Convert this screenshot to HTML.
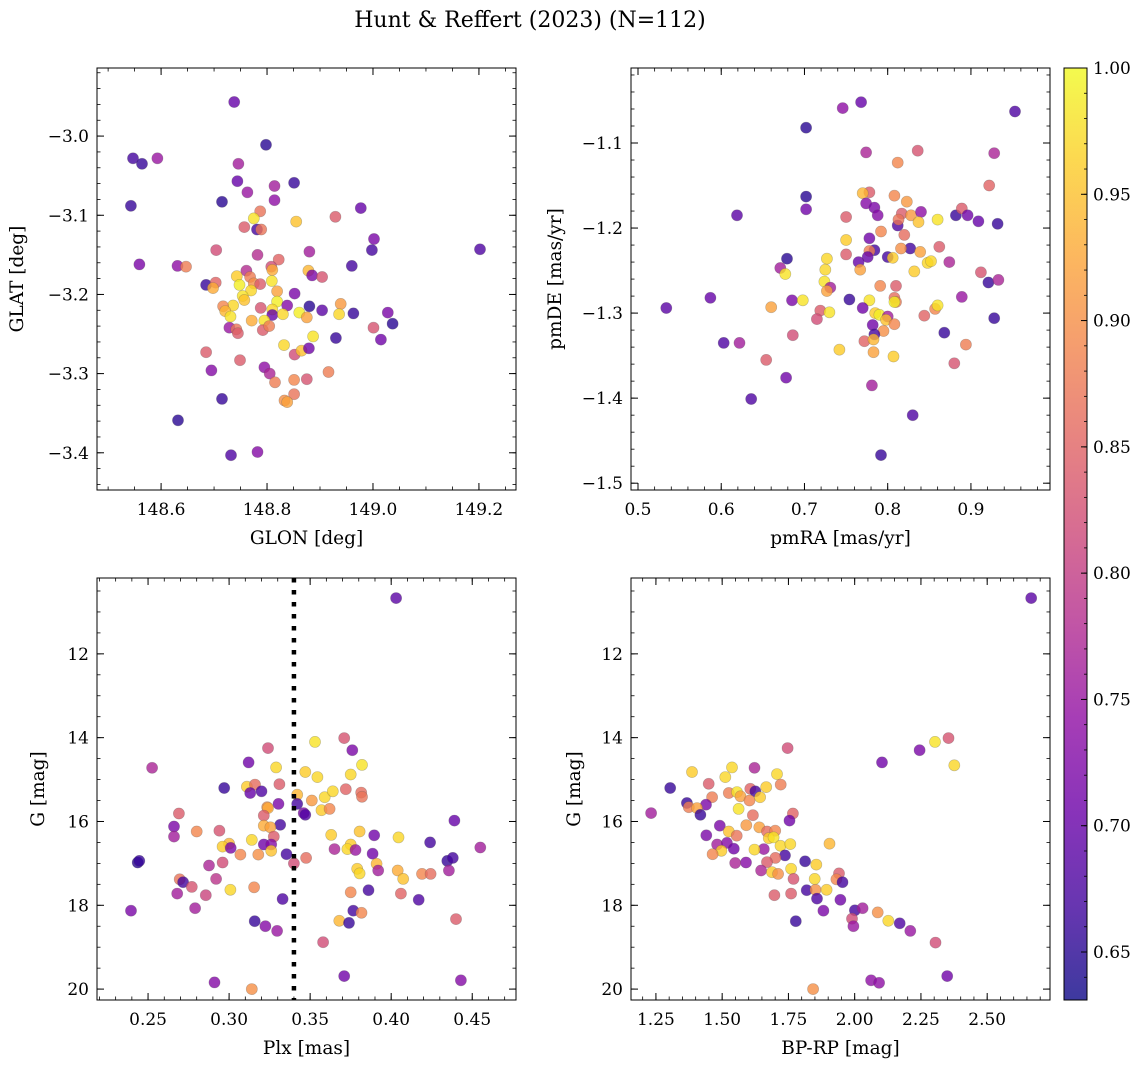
<!DOCTYPE html>
<html><head><meta charset="utf-8">
<style>
body{margin:0;background:#fff;}
svg text{font-family:"DejaVu Serif","Liberation Serif",serif;fill:#000;}
</style></head>
<body>
<svg id="fig" width="1148" height="1067" xmlns="http://www.w3.org/2000/svg">
<defs>
<linearGradient id="plasma" x1="0" y1="1" x2="0" y2="0">
<stop offset="0" stop-color="#0d0887"/><stop offset="0.1" stop-color="#41049d"/><stop offset="0.2" stop-color="#6a00a8"/><stop offset="0.3" stop-color="#8f0da4"/><stop offset="0.4" stop-color="#b12a90"/><stop offset="0.5" stop-color="#cc4778"/><stop offset="0.6" stop-color="#e16462"/><stop offset="0.7" stop-color="#f2844b"/><stop offset="0.8" stop-color="#fca636"/><stop offset="0.9" stop-color="#fcce25"/><stop offset="1" stop-color="#f0f921"/>
</linearGradient>
</defs>
<text x="530" y="27" font-size="22" text-anchor="middle">Hunt &amp; Reffert (2023) (N=112)</text>
</svg>
<script>
// ---- Panel 1: GLON / GLAT ----
const glon1 = [148.738,148.798,148.547,148.564,148.593,148.746,148.744,148.851,148.763,148.814,148.814,148.715,148.543,148.977,148.787,148.775,148.855,148.929,148.757,148.781,148.789,149.002,148.998,149.202,148.704,148.782,148.880,148.559,148.631,148.647,148.822,148.960,148.808,148.810,148.878,148.885,148.904,148.761,148.743,148.768,148.775,148.787,148.748,148.685,148.703,148.698,148.770,148.809,148.819,148.754,148.757,148.852,148.819,148.838,148.736,148.717,148.721,148.731,148.788,148.810,148.810,148.830,148.880,148.904,148.861,148.875,148.939,148.936,148.963,149.028,149.037,148.771,148.795,148.729,148.742,148.745,148.792,148.804,149.001,149.015,148.930,148.887,148.832,148.852,148.865,148.879,148.685,148.749,148.695,148.795,148.805,148.815,148.851,148.875,148.916,148.851,148.833,148.838,148.715,148.632,148.732,148.782];
const glat1 = [-2.957,-3.011,-3.028,-3.035,-3.028,-3.035,-3.057,-3.059,-3.071,-3.063,-3.081,-3.083,-3.088,-3.091,-3.095,-3.104,-3.108,-3.102,-3.115,-3.118,-3.118,-3.130,-3.144,-3.143,-3.144,-3.150,-3.146,-3.162,-3.164,-3.165,-3.156,-3.164,-3.165,-3.169,-3.170,-3.176,-3.178,-3.170,-3.177,-3.178,-3.186,-3.187,-3.188,-3.188,-3.185,-3.192,-3.195,-3.183,-3.196,-3.202,-3.207,-3.199,-3.209,-3.214,-3.214,-3.215,-3.221,-3.228,-3.217,-3.219,-3.226,-3.225,-3.215,-3.220,-3.223,-3.229,-3.212,-3.225,-3.224,-3.223,-3.237,-3.233,-3.233,-3.242,-3.244,-3.249,-3.245,-3.240,-3.242,-3.257,-3.255,-3.253,-3.264,-3.276,-3.271,-3.268,-3.273,-3.283,-3.296,-3.292,-3.300,-3.311,-3.308,-3.307,-3.298,-3.326,-3.334,-3.336,-3.332,-3.359,-3.403,-3.399];
const prob1 = [.70,.65,.67,.66,.75,.76,.70,.66,.75,.76,.74,.65,.66,.70,.87,.98,.95,.84,.84,.67,.87,.72,.67,.68,.82,.78,.76,.72,.74,.88,.85,.67,.82,.93,.94,.72,.83,.78,.96,.88,.90,.84,.99,.66,.85,.93,.97,.98,.92,.98,.95,.72,.99,.73,.97,.89,.94,.98,.83,.97,.70,.97,.65,.69,.99,.92,.91,.97,.66,.72,.65,.93,.98,.75,.87,.84,.84,.88,.83,.71,.66,.98,.97,.82,.95,.71,.84,.84,.73,.74,.77,.88,.89,.83,.88,.87,.90,.92,.66,.65,.68,.73];
const xt1 = [148.6,148.8,149.0,149.2], xt1Labels = ["148.6","148.8","149.0","149.2"];
const yt1 = [-3.0,-3.1,-3.2,-3.3,-3.4], yt1Labels = ["\u22123.0","\u22123.1","\u22123.2","\u22123.3","\u22123.4"];

// ---- Panel 2: pmRA / pmDE ----
const pmra2 = [0.768,0.746,0.953,0.702,0.774,0.836,0.928,0.812,0.922,0.778,0.770,0.808,0.702,0.823,0.774,0.784,0.702,0.619,0.788,0.817,0.828,0.840,0.837,0.860,0.882,0.889,0.896,0.909,0.932,0.750,0.812,0.813,0.792,0.820,0.750,0.778,0.784,0.778,0.827,0.816,0.839,0.862,0.750,0.776,0.765,0.800,0.806,0.848,0.852,0.874,0.727,0.679,0.671,0.677,0.725,0.767,0.832,0.912,0.921,0.933,0.724,0.731,0.727,0.791,0.810,0.889,0.587,0.534,0.685,0.698,0.754,0.778,0.808,0.810,0.808,0.770,0.857,0.860,0.660,0.719,0.730,0.715,0.785,0.790,0.800,0.798,0.844,0.928,0.808,0.782,0.795,0.784,0.868,0.603,0.622,0.686,0.772,0.783,0.894,0.742,0.783,0.807,0.654,0.880,0.678,0.781,0.636,0.830,0.792];
const pmde2 = [-1.052,-1.059,-1.063,-1.082,-1.111,-1.109,-1.112,-1.123,-1.150,-1.158,-1.159,-1.162,-1.163,-1.169,-1.171,-1.176,-1.178,-1.185,-1.185,-1.183,-1.185,-1.181,-1.193,-1.190,-1.185,-1.177,-1.185,-1.192,-1.195,-1.187,-1.197,-1.190,-1.204,-1.208,-1.214,-1.212,-1.226,-1.227,-1.224,-1.224,-1.228,-1.222,-1.231,-1.234,-1.240,-1.234,-1.235,-1.241,-1.239,-1.240,-1.236,-1.236,-1.247,-1.254,-1.249,-1.249,-1.251,-1.252,-1.264,-1.261,-1.263,-1.270,-1.274,-1.268,-1.268,-1.281,-1.282,-1.294,-1.285,-1.285,-1.284,-1.285,-1.282,-1.287,-1.287,-1.294,-1.295,-1.291,-1.293,-1.297,-1.299,-1.307,-1.300,-1.302,-1.304,-1.308,-1.303,-1.306,-1.313,-1.314,-1.321,-1.325,-1.323,-1.335,-1.335,-1.326,-1.333,-1.331,-1.337,-1.343,-1.346,-1.351,-1.355,-1.359,-1.376,-1.385,-1.401,-1.420,-1.467];
const prob2 = [.70,.74,.68,.65,.77,.83,.77,.89,.85,.84,.94,.89,.65,.91,.73,.72,.71,.69,.73,.84,.91,.74,.95,.98,.66,.84,.71,.70,.66,.84,.68,.87,.89,.86,.96,.71,.67,.88,.67,.90,.92,.84,.84,.70,.70,.67,.96,.97,.97,.77,.97,.65,.76,.98,.97,.92,.96,.83,.66,.77,.98,.76,.92,.89,.84,.75,.70,.69,.72,.98,.66,.98,.86,.88,.99,.71,.89,.98,.92,.84,.98,.82,.96,.99,.76,.95,.85,.66,.89,.71,.90,.67,.66,.68,.76,.82,.85,.94,.88,.96,.92,.96,.84,.83,.71,.76,.68,.68,.66];
const xt2 = [0.5,0.6,0.7,0.8,0.9], xt2Labels = ["0.5","0.6","0.7","0.8","0.9"];
const yt2 = [-1.1,-1.2,-1.3,-1.4,-1.5], yt2Labels = ["\u22121.1","\u22121.2","\u22121.3","\u22121.4","\u22121.5"];

// ---- Panel 3: Plx / G ----
const plx3 = [0.403,0.353,0.371,0.376,0.324,0.2525,0.312,0.329,0.347,0.3545,0.375,0.382,0.331,0.297,0.311,0.316,0.313,0.320,0.342,0.342,0.351,0.359,0.364,0.372,0.3815,0.382,0.3305,0.3235,0.324,0.357,0.362,0.346,0.347,0.3214,0.269,0.266,0.3315,0.3214,0.3255,0.3276,0.266,0.280,0.294,0.314,0.363,0.3805,0.3895,0.4045,0.424,0.439,0.455,0.300,0.296,0.301,0.3214,0.326,0.326,0.307,0.318,0.3354,0.3475,0.340,0.365,0.375,0.373,0.378,0.3885,0.391,0.392,0.379,0.3805,0.296,0.2876,0.2436,0.2446,0.4346,0.438,0.4356,0.404,0.4074,0.419,0.4243,0.2695,0.2716,0.277,0.292,0.3008,0.3154,0.268,0.2856,0.375,0.386,0.406,0.417,0.333,0.279,0.2395,0.3158,0.3224,0.3296,0.368,0.374,0.3766,0.3817,0.440,0.358,0.371,0.291,0.443,0.314];
const g3 = [10.67,14.10,14.01,14.30,14.25,14.72,14.59,14.71,14.82,14.94,14.88,14.65,15.11,15.20,15.17,15.12,15.32,15.28,15.36,15.58,15.50,15.42,15.28,15.23,15.31,15.41,15.58,15.66,15.68,15.73,15.70,15.80,15.84,15.86,15.81,16.12,16.08,16.10,16.14,16.36,16.36,16.24,16.22,16.44,16.32,16.24,16.33,16.38,16.50,15.98,16.62,16.53,16.60,16.63,16.55,16.55,16.70,16.79,16.79,16.78,16.87,17.00,16.66,16.55,16.66,16.68,16.77,17.01,17.17,17.13,17.24,16.98,17.05,16.98,16.94,16.94,16.87,17.17,17.17,17.37,17.25,17.25,17.38,17.45,17.56,17.37,17.63,17.57,17.72,17.76,17.69,17.64,17.72,17.87,17.85,18.07,18.13,18.38,18.50,18.61,18.37,18.42,18.13,18.18,18.33,18.88,19.69,19.84,19.79,20.00];
const prob3 = [.69,.98,.83,.72,.82,.77,.71,.97,.96,.97,.97,.98,.84,.66,.96,.86,.70,.68,.94,.67,.91,.97,.97,.85,.86,.87,.72,.90,.93,.96,.89,.72,.68,.84,.84,.72,.67,.93,.92,.84,.76,.89,.83,.97,.96,.95,.71,.97,.67,.70,.76,.94,.96,.72,.71,.73,.95,.89,.90,.67,.86,.82,.77,.96,.97,.75,.71,.94,.76,.96,.97,.82,.77,.65,.66,.66,.67,.76,.93,.95,.89,.86,.87,.67,.83,.79,.97,.89,.76,.81,.89,.67,.85,.68,.68,.76,.72,.66,.73,.75,.94,.66,.67,.89,.84,.82,.71,.73,.73,.90];
const plxCut = 0.34;
const xt3 = [0.25,0.30,0.35,0.40,0.45], xt3Labels = ["0.25","0.30","0.35","0.40","0.45"];
const yt3 = [12,14,16,18,20], yt3Labels = ["12","14","16","18","20"];

// ---- Panel 4: BP-RP / G ----
const bprp4 = [2.666,2.303,2.354,2.245,1.747,2.103,2.376,1.232,1.304,1.386,1.449,1.512,1.537,1.622,1.707,1.721,1.666,1.606,1.625,1.525,1.556,1.569,1.603,1.643,1.462,1.367,1.439,1.374,1.405,1.418,1.562,1.616,1.767,1.754,1.491,1.591,1.640,1.440,1.525,1.555,1.669,1.700,1.676,1.694,1.481,1.518,1.544,1.497,1.464,1.657,1.622,1.720,1.757,1.905,1.737,1.701,1.669,1.590,1.549,1.647,1.688,1.711,1.760,1.813,1.855,1.769,1.941,1.931,1.954,1.849,1.819,1.852,1.894,1.697,1.760,1.858,1.946,1.882,2.001,2.030,2.087,2.127,1.990,1.995,1.778,2.170,2.210,2.305,2.349,2.062,2.092,1.843];
const g4 = [10.67,14.10,14.01,14.30,14.25,14.59,14.66,15.80,15.20,14.82,15.10,14.94,14.71,14.72,14.87,15.12,15.18,15.22,15.28,15.32,15.30,15.40,15.50,15.42,15.42,15.56,15.60,15.66,15.68,15.84,15.70,15.85,15.81,15.98,16.10,16.09,16.14,16.33,16.24,16.34,16.24,16.22,16.40,16.38,16.55,16.51,16.65,16.70,16.78,16.66,16.67,16.58,16.54,16.53,16.81,16.87,16.97,16.98,16.99,17.17,17.21,17.25,17.13,16.95,17.03,17.37,17.24,17.38,17.45,17.37,17.64,17.63,17.63,17.76,17.72,17.84,17.87,18.13,18.12,18.07,18.17,18.37,18.32,18.50,18.38,18.43,18.61,18.89,19.69,19.79,19.85,20.00];
const prob4 = [.69,.98,.83,.72,.82,.71,.97,.76,.66,.96,.84,.97,.97,.77,.97,.88,.96,.85,.67,.88,.98,.92,.89,.96,.88,.66,.72,.88,.92,.66,.98,.86,.85,.71,.72,.91,.92,.72,.95,.87,.86,.89,.96,.98,.76,.73,.71,.96,.89,.75,.97,.97,.97,.94,.67,.86,.84,.73,.77,.77,.96,.90,.97,.66,.96,.83,.84,.89,.67,.97,.67,.90,.96,.84,.84,.68,.71,.72,.67,.76,.90,.97,.82,.75,.66,.68,.75,.82,.71,.74,.74,.90];
const xt4 = [1.25,1.50,1.75,2.00,2.25,2.50], xt4Labels = ["1.25","1.50","1.75","2.00","2.25","2.50"];
const yt4 = [12,14,16,18,20], yt4Labels = ["12","14","16","18","20"];

// ---- Colorbar ----
const cbMin = 0.631, cbMax = 1.0;
const cbTicks = [0.65,0.70,0.75,0.80,0.85,0.90,0.95,1.00], cbLabels = ["0.65","0.70","0.75","0.80","0.85","0.90","0.95","1.00"];

const NS = "http://www.w3.org/2000/svg";
const svg = document.getElementById('fig');
function mk(tag, attrs, parent){ const e=document.createElementNS(NS,tag); for(const k in attrs) e.setAttribute(k,attrs[k]); (parent||svg).appendChild(e); return e; }

const stops = [[13,8,135],[65,4,157],[106,0,168],[143,13,164],[177,42,144],[204,71,120],[225,100,98],[242,132,75],[252,166,54],[252,206,37],[240,249,33]];
function plasma(v){
  let t=(v-cbMin)/(cbMax-cbMin); t=Math.max(0,Math.min(1,t));
  const f=t*10, i=Math.min(9,Math.floor(f)), r=f-i;
  const c=stops[i].map((a,j)=>Math.round(a+(stops[i+1][j]-a)*r));
  return `rgb(${c[0]},${c[1]},${c[2]})`;
}

function panel(cfg){
  const {name,L,T,W,H,xmin,xmax,ymin,ymax,invert,xs,ys,ps,xt,xtl,yt,ytl,xminor,yminor,xlabel,ylabel,ylabelX} = cfg;
  const sx = v => L + (v-xmin)/(xmax-xmin)*W;
  const sy = invert ? (v => T + (v-ymin)/(ymax-ymin)*H) : (v => T + (ymax-v)/(ymax-ymin)*H);
  const g = mk('g',{});
  
  
  const pts = mk('g',{},g);
  
  
  for(let i=0;i<xs.length;i++){
    const c = mk('circle',{cx:sx(xs[i]).toFixed(1),cy:sy(ys[i]).toFixed(1),r:5.6,fill:plasma(ps[i]),'fill-opacity':0.8,stroke:'#555','stroke-opacity':0.35,'stroke-width':0.6},pts);
    
    
  }
  if(cfg.extra) cfg.extra(g,sx,sy);
  const ax = mk('g',{},g);
  
  
  mk('rect',{x:L,y:T,width:W,height:H,fill:'none',stroke:'#000','stroke-width':1},ax);
  const lo=Math.min(xmin,xmax), hi=Math.max(xmin,xmax);
  for(let v=Math.ceil(lo/xminor-1e-6)*xminor; v<=hi+1e-9; v+=xminor){
    const x=sx(v);
    mk('line',{x1:x,y1:T+H,x2:x,y2:T+H-3.5,stroke:'#000','stroke-width':0.8},ax);
    mk('line',{x1:x,y1:T,x2:x,y2:T+3.5,stroke:'#000','stroke-width':0.8},ax);
  }
  for(let v=Math.ceil(ymin/yminor-1e-6)*yminor; v<=ymax+1e-9; v+=yminor){
    const y=sy(v);
    mk('line',{x1:L,y1:y,x2:L+3.5,y2:y,stroke:'#000','stroke-width':0.8},ax);
    mk('line',{x1:L+W,y1:y,x2:L+W-3.5,y2:y,stroke:'#000','stroke-width':0.8},ax);
  }
  xt.forEach((v,i)=>{
    const x=sx(v);
    mk('line',{x1:x,y1:T+H,x2:x,y2:T+H-7,stroke:'#000','stroke-width':1},ax);
    mk('line',{x1:x,y1:T,x2:x,y2:T+7,stroke:'#000','stroke-width':1},ax);
    const t=mk('text',{x:x,y:T+H+25,'font-size':17,'text-anchor':'middle'},ax); t.textContent=xtl[i];
    
    
  });
  yt.forEach((v,i)=>{
    const y=sy(v);
    mk('line',{x1:L,y1:y,x2:L+7,y2:y,stroke:'#000','stroke-width':1},ax);
    mk('line',{x1:L+W,y1:y,x2:L+W-7,y2:y,stroke:'#000','stroke-width':1},ax);
    const t=mk('text',{x:L-8,y:y+6,'font-size':17,'text-anchor':'end'},ax); t.textContent=ytl[i];
    
    
  });
  const xl=mk('text',{x:L+W/2,y:T+H+54,'font-size':18.5,'text-anchor':'middle'},ax); xl.textContent=xlabel;
  
  
  const yl=mk('text',{x:ylabelX,y:T+H/2,'font-size':18.5,'text-anchor':'middle',transform:`rotate(-90 ${ylabelX} ${T+H/2})`},ax); yl.textContent=ylabel;
  
  
}

panel({name:'glon-glat',L:97,T:68,W:419,H:422,xmin:148.479,xmax:149.27,ymin:-3.447,ymax:-2.914,invert:false,xs:glon1,ys:glat1,ps:prob1,xt:xt1,xtl:xt1Labels,yt:yt1,ytl:yt1Labels,xminor:0.05,yminor:0.02,xlabel:'GLON [deg]',ylabel:'GLAT [deg]',ylabelX:23});
panel({name:'pm',L:631,T:68,W:419,H:422,xmin:0.4916,xmax:0.995,ymin:-1.508,ymax:-1.0118,invert:false,xs:pmra2,ys:pmde2,ps:prob2,xt:xt2,xtl:xt2Labels,yt:yt2,ytl:yt2Labels,xminor:0.02,yminor:0.02,xlabel:'pmRA [mas/yr]',ylabel:'pmDE [mas/yr]',ylabelX:561});
panel({name:'plx-g',L:97,T:578,W:419,H:422,xmin:0.2185,xmax:0.477,ymin:10.19,ymax:20.26,invert:true,xs:plx3,ys:g3,ps:prob3,xt:xt3,xtl:xt3Labels,yt:yt3,ytl:yt3Labels,xminor:0.01,yminor:0.5,xlabel:'Plx [mas]',ylabel:'G [mag]',ylabelX:44,
  extra:(g,sx,sy)=>{ const l=mk('line',{x1:sx(plxCut),y1:578,x2:sx(plxCut),y2:1000,stroke:'#000','stroke-width':4.5,'stroke-dasharray':'4.5 7.5'},g);
    
     }});
panel({name:'cmd',L:631,T:578,W:419,H:422,xmin:1.156,xmax:2.737,ymin:10.19,ymax:20.26,invert:true,xs:bprp4,ys:g4,ps:prob4,xt:xt4,xtl:xt4Labels,yt:yt4,ytl:yt4Labels,xminor:0.05,yminor:0.5,xlabel:'BP-RP [mag]',ylabel:'G [mag]',ylabelX:580});

const cb = mk('g',{});


const CT=68, CB=1000, CL=1064, CW=23;
mk('rect',{x:CL,y:CT,width:CW,height:CB-CT,fill:'url(#plasma)','fill-opacity':0.8},cb);
mk('rect',{x:CL,y:CT,width:CW,height:CB-CT,fill:'none',stroke:'#000','stroke-width':1},cb);
const cy = v => CB - (v-cbMin)/(cbMax-cbMin)*(CB-CT);
for(let v=0.64; v<=1.0001; v+=0.01){
  const y=cy(v); if(y<CT||y>CB) continue;
  mk('line',{x1:CL+CW,y1:y,x2:CL+CW-3,y2:y,stroke:'#000','stroke-width':0.8},cb);
}
cbTicks.forEach((v,i)=>{
  const y=cy(v);
  mk('line',{x1:CL+CW,y1:y,x2:CL+CW-6,y2:y,stroke:'#000','stroke-width':1},cb);
  const t=mk('text',{x:CL+CW+6,y:y+6,'font-size':17},cb); t.textContent=cbLabels[i];
  
  
});
</script>
</body></html>
